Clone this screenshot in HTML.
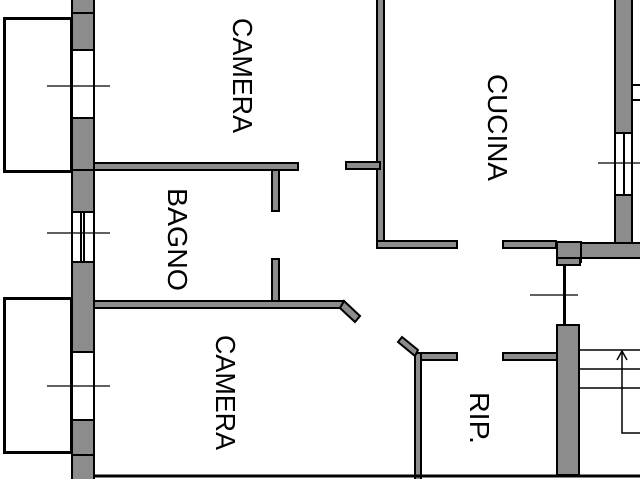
<!DOCTYPE html>
<html><head><meta charset="utf-8"><style>
html,body{margin:0;padding:0;background:#fff;}
svg{display:block;}
text{font-family:"Liberation Sans",sans-serif;}
</style></head><body>
<svg width="640" height="479" viewBox="0 0 640 479" xmlns="http://www.w3.org/2000/svg">
<rect width="640" height="479" fill="#fff"/>
<g stroke="#000" stroke-width="2" fill="#8c8c8c">
<!-- left thick wall -->
<rect x="72" y="-2" width="22" height="483"/>
<rect x="72" y="50" width="22" height="68" fill="#fff"/>
<rect x="72" y="212" width="22" height="50" fill="#fff"/>
<rect x="72" y="352" width="22" height="68" fill="#fff"/>
<line x1="72" y1="13" x2="94" y2="13"/>
<line x1="72" y1="170" x2="94" y2="170"/>
<line x1="72" y1="455" x2="94" y2="455"/>
<line x1="81" y1="212" x2="81" y2="262"/>
<line x1="84" y1="212" x2="84" y2="262"/>
<!-- interior walls -->
<rect x="94" y="163" width="204" height="7"/>
<rect x="272" y="170" width="7" height="41"/>
<rect x="94" y="301" width="250" height="7"/>
<rect x="272" y="259" width="7" height="42"/>
<polygon points="344,301 360,316 355,322 340,308"/>
<rect x="377" y="-2" width="7" height="250"/>
<rect x="377" y="241" width="80" height="7"/>
<rect x="346" y="162" width="34" height="7"/>
<rect x="503" y="241" width="53" height="7"/>
<rect x="557" y="242" width="24" height="20"/>
<rect x="557" y="258" width="23" height="7"/>
<rect x="581" y="243" width="61" height="15"/>
<rect x="557" y="325" width="22" height="150"/>
<rect x="415" y="353" width="42" height="7"/>
<rect x="415" y="353" width="6" height="128"/>
<polygon points="398,342 402,337 418,350 415,356"/>
<rect x="503" y="353" width="54" height="7"/>
<!-- right wall -->
<rect x="615" y="-2" width="17" height="245"/>
<rect x="615" y="133" width="17" height="62" fill="#fff"/>
<line x1="624" y1="133" x2="624" y2="195"/>
<rect x="632" y="-2" width="10" height="87" fill="#fff"/>
<rect x="632" y="100" width="10" height="143" fill="#fff"/>
</g>
<g stroke="#000" fill="none">
<!-- balconies -->
<rect x="4.5" y="18.5" width="67" height="153" stroke-width="3"/>
<rect x="4.5" y="298.5" width="67" height="154" stroke-width="3"/>
<g stroke-width="1.2">
<line x1="47" y1="86" x2="110" y2="86"/>
<line x1="47" y1="233" x2="110" y2="233"/>
<line x1="47" y1="386" x2="110" y2="386"/>
<line x1="598" y1="163" x2="640" y2="163"/>
<line x1="530" y1="295" x2="578" y2="295"/>
</g>
<line x1="564.5" y1="265" x2="564.5" y2="325" stroke-width="3"/>
<!-- stairs -->
<g stroke-width="1.5">
<line x1="579" y1="350" x2="640" y2="350"/>
<line x1="579" y1="369" x2="640" y2="369"/>
<line x1="579" y1="388" x2="640" y2="388"/>
<polyline points="622,352 622,433 640,433"/>
<polyline points="617,360 622,351 627,360"/>
<line x1="94" y1="476" x2="640" y2="476" stroke-width="3"/>
</g>
</g>
<g fill="#000" font-size="28">
<text transform="translate(233,18) rotate(90)" textLength="115" lengthAdjust="spacingAndGlyphs">CAMERA</text>
<text transform="translate(168,188) rotate(90)" textLength="103" lengthAdjust="spacingAndGlyphs">BAGNO</text>
<text transform="translate(488,74) rotate(90)" textLength="107" lengthAdjust="spacingAndGlyphs">CUCINA</text>
<text transform="translate(216,335) rotate(90)" textLength="115" lengthAdjust="spacingAndGlyphs">CAMERA</text>
<text transform="translate(470,392) rotate(90)" textLength="52" lengthAdjust="spacingAndGlyphs">RIP.</text>
</g>
</svg>
</body></html>
